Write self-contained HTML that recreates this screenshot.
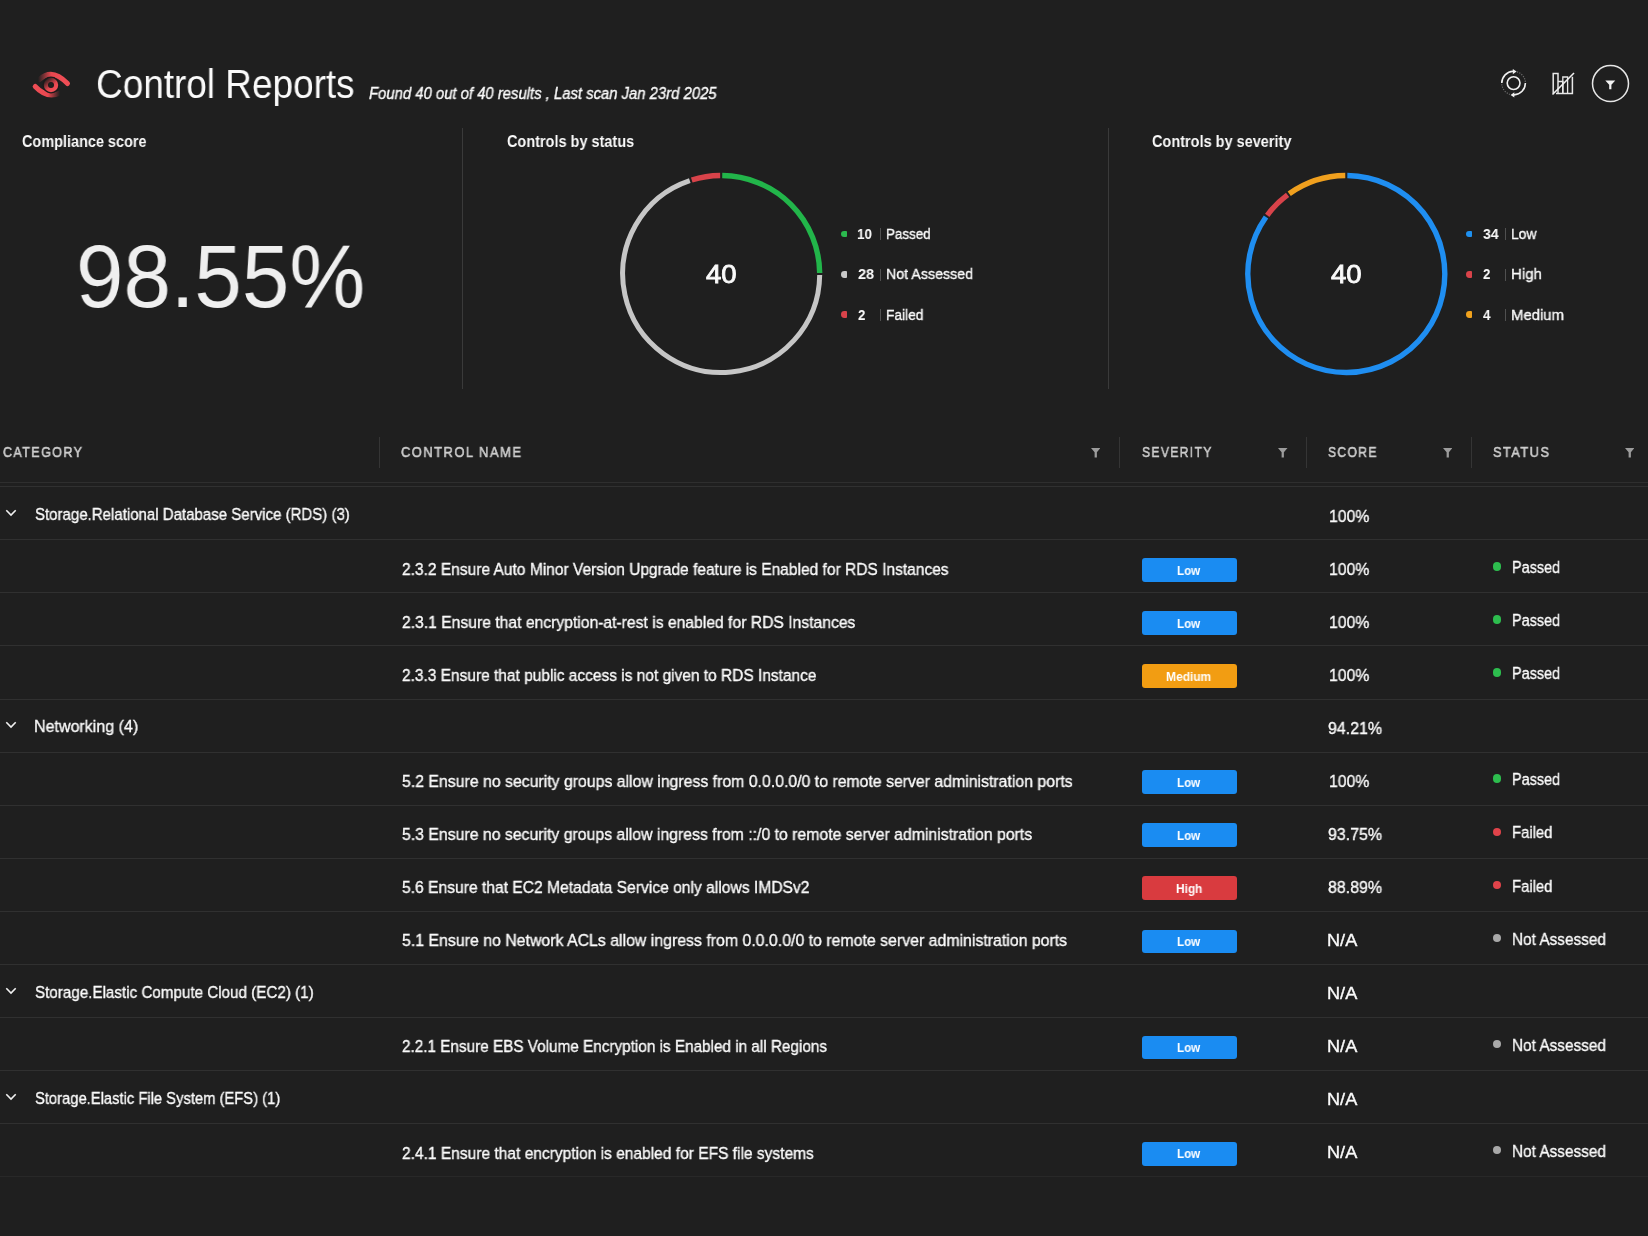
<!DOCTYPE html>
<html><head><meta charset='utf-8'><title>Control Reports</title>
<style>
html,body{margin:0;padding:0;background:#1f1f1f;}
body{width:1648px;height:1236px;position:relative;overflow:hidden;font-family:"Liberation Sans",sans-serif;}
.t{position:absolute;white-space:pre;transform-origin:0 0;will-change:transform;}
</style></head><body>
<svg style='position:absolute;left:25px;top:62px' width='56' height='44' viewBox='25 62 56 44'>
<defs>
<linearGradient id='gu' x1='38' y1='0' x2='62' y2='0' gradientUnits='userSpaceOnUse'><stop offset='0' stop-color='#e8474f' stop-opacity='0'/><stop offset='0.55' stop-color='#e8474f'/><stop offset='1' stop-color='#ee4d55'/></linearGradient>
<linearGradient id='gl' x1='36' y1='0' x2='60' y2='0' gradientUnits='userSpaceOnUse'><stop offset='0' stop-color='#ee4d55'/><stop offset='0.5' stop-color='#e8474f'/><stop offset='1' stop-color='#e8474f' stop-opacity='0'/></linearGradient>
<linearGradient id='gi' x1='46' y1='79' x2='55' y2='90' gradientUnits='userSpaceOnUse'><stop offset='0' stop-color='#e8474f' stop-opacity='0.05'/><stop offset='0.65' stop-color='#e8474f'/><stop offset='1' stop-color='#f05058'/></linearGradient>
</defs>
<path d='M39.5 79.5 Q52 67.5 67.5 83.5' fill='none' stroke='url(#gu)' stroke-width='5' stroke-linecap='round'/>
<path d='M35.2 86.5 Q47 99 60 93' fill='none' stroke='url(#gl)' stroke-width='5' stroke-linecap='round'/>
<circle cx='51' cy='85' r='5.4' fill='none' stroke='#1a1a1a' stroke-width='6.2'/>
<circle cx='51' cy='85' r='5.1' fill='none' stroke='url(#gi)' stroke-width='4.2'/>
</svg>
<svg style='position:absolute;left:1498px;top:67px' width='32' height='32' viewBox='1498 67 32 32'>
<circle cx='1513.6' cy='83.1' r='6.4' fill='none' stroke='#f0f0f0' stroke-width='1.6'/>
<path d='M1501.8 83.1 A11.8 11.8 0 0 1 1513.2 71.3' fill='none' stroke='#f0f0f0' stroke-width='1.6'/>
<path d='M1512.8 68.9 L1516.6 71.5 L1512.8 74.3 Z' fill='#f0f0f0'/>
<path d='M1525.4 83.1 A11.8 11.8 0 0 1 1514 94.9' fill='none' stroke='#f0f0f0' stroke-width='1.6'/>
<path d='M1514.3 92.2 L1510.6 94.9 L1514.3 97.6 Z' fill='#f0f0f0'/>
<path d='M1517 71.8 A11.8 11.8 0 0 1 1525.4 82' fill='none' stroke='#6c6c6c' stroke-width='1.2' stroke-dasharray='1.2 1.3'/>
<path d='M1501.8 84.2 A11.8 11.8 0 0 0 1510 94.4' fill='none' stroke='#6c6c6c' stroke-width='1.2' stroke-dasharray='1.2 1.3'/>
</svg>
<svg style='position:absolute;left:1548px;top:69px' width='30' height='29' viewBox='1548 69 30 29'>
<path d='M1553.2 93.5 V73.6 H1558 V93.5' fill='none' stroke='#e8e8e8' stroke-width='1.5'/>
<path d='M1556 93.5 H1572.4 V76.8' fill='none' stroke='#e8e8e8' stroke-width='1.5'/>
<path d='M1558 81.4 H1562.8 V93.5' fill='none' stroke='#e8e8e8' stroke-width='1.5'/>
<path d='M1562.8 93.5 V77 H1567.6 V93.5' fill='none' stroke='#e8e8e8' stroke-width='1.3'/>
<path d='M1552.5 94.5 L1574 73' fill='none' stroke='#f0f0f0' stroke-width='1.6'/>
</svg>
<svg style='position:absolute;left:1589px;top:62px' width='44' height='44' viewBox='1589 62 44 44'>
<circle cx='1610.5' cy='83.6' r='18' fill='none' stroke='#e6e6e6' stroke-width='1.5'/>
<path d='M1605.3 80.4 H1615.3 L1611.4 84.8 V89.3 H1609.2 V84.8 Z' fill='#f2f2f2'/>
</svg>
<svg style='position:absolute;left:0;top:0' width='1648' height='400'><path d='M722.23 175.51 A98.5 98.5 0 0 1 819.69 272.97' fill='none' stroke='#22b54a' stroke-width='5.4'/><path d='M819.69 275.03 A98.5 98.5 0 1 1 689.78 180.64' fill='none' stroke='#c6c6c6' stroke-width='5.0'/><path d='M691.74 180.01 A98.5 98.5 0 0 1 720.17 175.51' fill='none' stroke='#d8434a' stroke-width='5.4'/><path d='M1347.33 175.51 A98.5 98.5 0 1 1 1266.01 216.94' fill='none' stroke='#1f8ef1' stroke-width='5.4'/><path d='M1267.22 215.27 A98.5 98.5 0 0 1 1287.57 194.92' fill='none' stroke='#d8434a' stroke-width='5.4'/><path d='M1289.24 193.71 A98.5 98.5 0 0 1 1345.27 175.51' fill='none' stroke='#f0a01e' stroke-width='5.4'/></svg>
<div style='position:absolute;left:462px;top:128px;width:1px;height:261px;background:#3a3a3a'></div>
<div style='position:absolute;left:1108px;top:128px;width:1px;height:261px;background:#3a3a3a'></div>
<div style='position:absolute;left:379px;top:437px;width:1px;height:31px;background:#353535'></div>
<div style='position:absolute;left:1119px;top:437px;width:1px;height:31px;background:#353535'></div>
<div style='position:absolute;left:1306px;top:437px;width:1px;height:31px;background:#353535'></div>
<div style='position:absolute;left:1471px;top:437px;width:1px;height:31px;background:#353535'></div>
<div style='position:absolute;left:0px;top:482px;width:1648px;height:1px;background:#2e2e2e'></div>
<div style='position:absolute;left:0px;top:486px;width:1648px;height:1px;background:#303030'></div>
<div style='position:absolute;left:0px;top:539px;width:1648px;height:1px;background:#303030'></div>
<div style='position:absolute;left:0px;top:592px;width:1648px;height:1px;background:#303030'></div>
<div style='position:absolute;left:0px;top:645px;width:1648px;height:1px;background:#303030'></div>
<div style='position:absolute;left:0px;top:699px;width:1648px;height:1px;background:#303030'></div>
<div style='position:absolute;left:0px;top:752px;width:1648px;height:1px;background:#303030'></div>
<div style='position:absolute;left:0px;top:805px;width:1648px;height:1px;background:#303030'></div>
<div style='position:absolute;left:0px;top:858px;width:1648px;height:1px;background:#303030'></div>
<div style='position:absolute;left:0px;top:911px;width:1648px;height:1px;background:#303030'></div>
<div style='position:absolute;left:0px;top:964px;width:1648px;height:1px;background:#303030'></div>
<div style='position:absolute;left:0px;top:1017px;width:1648px;height:1px;background:#303030'></div>
<div style='position:absolute;left:0px;top:1070px;width:1648px;height:1px;background:#303030'></div>
<div style='position:absolute;left:0px;top:1123px;width:1648px;height:1px;background:#303030'></div>
<div style='position:absolute;left:0px;top:1176px;width:1648px;height:1px;background:#282828'></div>
<svg style='position:absolute;left:5px;top:508.00px' width='12' height='10' viewBox='0 0 12 10'><path d='M1.3 2.3 L6 7 L10.7 2.3' fill='none' stroke='#f0f0f0' stroke-width='1.6'/></svg>
<div style='position:absolute;left:1141.5px;top:558.07px;width:95.6px;height:23.8px;border-radius:3px;background:#1a8cf2'></div>
<div style='position:absolute;left:1492.75px;top:562.22px;width:8.5px;height:8.5px;border-radius:50%;background:#2dbd4e'></div>
<div style='position:absolute;left:1141.5px;top:611.13px;width:95.6px;height:23.8px;border-radius:3px;background:#1a8cf2'></div>
<div style='position:absolute;left:1492.75px;top:615.28px;width:8.5px;height:8.5px;border-radius:50%;background:#2dbd4e'></div>
<div style='position:absolute;left:1141.5px;top:664.20px;width:95.6px;height:23.8px;border-radius:3px;background:#f29d12'></div>
<div style='position:absolute;left:1492.75px;top:668.35px;width:8.5px;height:8.5px;border-radius:50%;background:#2dbd4e'></div>
<svg style='position:absolute;left:5px;top:720.27px' width='12' height='10' viewBox='0 0 12 10'><path d='M1.3 2.3 L6 7 L10.7 2.3' fill='none' stroke='#f0f0f0' stroke-width='1.6'/></svg>
<div style='position:absolute;left:1141.5px;top:770.34px;width:95.6px;height:23.8px;border-radius:3px;background:#1a8cf2'></div>
<div style='position:absolute;left:1492.75px;top:774.49px;width:8.5px;height:8.5px;border-radius:50%;background:#2dbd4e'></div>
<div style='position:absolute;left:1141.5px;top:823.40px;width:95.6px;height:23.8px;border-radius:3px;background:#1a8cf2'></div>
<div style='position:absolute;left:1492.75px;top:827.55px;width:8.5px;height:8.5px;border-radius:50%;background:#e0434a'></div>
<div style='position:absolute;left:1141.5px;top:876.47px;width:95.6px;height:23.8px;border-radius:3px;background:#d93b3f'></div>
<div style='position:absolute;left:1492.75px;top:880.62px;width:8.5px;height:8.5px;border-radius:50%;background:#e0434a'></div>
<div style='position:absolute;left:1141.5px;top:929.54px;width:95.6px;height:23.8px;border-radius:3px;background:#1a8cf2'></div>
<div style='position:absolute;left:1492.75px;top:933.69px;width:8.5px;height:8.5px;border-radius:50%;background:#a8a8a8'></div>
<svg style='position:absolute;left:5px;top:985.60px' width='12' height='10' viewBox='0 0 12 10'><path d='M1.3 2.3 L6 7 L10.7 2.3' fill='none' stroke='#f0f0f0' stroke-width='1.6'/></svg>
<div style='position:absolute;left:1141.5px;top:1035.67px;width:95.6px;height:23.8px;border-radius:3px;background:#1a8cf2'></div>
<div style='position:absolute;left:1492.75px;top:1039.82px;width:8.5px;height:8.5px;border-radius:50%;background:#a8a8a8'></div>
<svg style='position:absolute;left:5px;top:1091.74px' width='12' height='10' viewBox='0 0 12 10'><path d='M1.3 2.3 L6 7 L10.7 2.3' fill='none' stroke='#f0f0f0' stroke-width='1.6'/></svg>
<div style='position:absolute;left:1141.5px;top:1141.80px;width:95.6px;height:23.8px;border-radius:3px;background:#1a8cf2'></div>
<div style='position:absolute;left:1492.75px;top:1145.95px;width:8.5px;height:8.5px;border-radius:50%;background:#a8a8a8'></div>
<svg style='position:absolute;left:1090.75px;top:448.25px' width='9.5' height='9.5' viewBox='0 0 10 10'><path d='M0 0 H10 L6.2 4.6 V10 H3.8 V4.6 Z' fill='#9c9c9c'/></svg>
<svg style='position:absolute;left:1278.25px;top:448.25px' width='9.5' height='9.5' viewBox='0 0 10 10'><path d='M0 0 H10 L6.2 4.6 V10 H3.8 V4.6 Z' fill='#9c9c9c'/></svg>
<svg style='position:absolute;left:1442.75px;top:448.25px' width='9.5' height='9.5' viewBox='0 0 10 10'><path d='M0 0 H10 L6.2 4.6 V10 H3.8 V4.6 Z' fill='#9c9c9c'/></svg>
<svg style='position:absolute;left:1624.75px;top:448.25px' width='9.5' height='9.5' viewBox='0 0 10 10'><path d='M0 0 H10 L6.2 4.6 V10 H3.8 V4.6 Z' fill='#9c9c9c'/></svg>
<div style='position:absolute;left:880.3px;top:228.3px;width:1px;height:12.0px;background:#505050'></div>
<div style='position:absolute;left:1505.1px;top:228.3px;width:1px;height:12.0px;background:#505050'></div>
<div style='position:absolute;left:880.3px;top:268.6px;width:1px;height:12.0px;background:#505050'></div>
<div style='position:absolute;left:1505.1px;top:268.6px;width:1px;height:12.0px;background:#505050'></div>
<div style='position:absolute;left:880.3px;top:308.9px;width:1px;height:12.0px;background:#505050'></div>
<div style='position:absolute;left:1505.1px;top:308.9px;width:1px;height:12.0px;background:#505050'></div>
<div style='position:absolute;left:841.2px;top:230.50px;width:6.3px;height:6.8px;border-radius:3.4px 1px 1px 3.4px;background:#2bb94e'></div>
<div style='position:absolute;left:841.2px;top:270.80px;width:6.3px;height:6.8px;border-radius:3.4px 1px 1px 3.4px;background:#c8c8c8'></div>
<div style='position:absolute;left:841.2px;top:311.10px;width:6.3px;height:6.8px;border-radius:3.4px 1px 1px 3.4px;background:#d9434a'></div>
<div style='position:absolute;left:1466.2px;top:230.50px;width:6.3px;height:6.8px;border-radius:3.4px 1px 1px 3.4px;background:#1e90f0'></div>
<div style='position:absolute;left:1466.2px;top:270.80px;width:6.3px;height:6.8px;border-radius:3.4px 1px 1px 3.4px;background:#d9434a'></div>
<div style='position:absolute;left:1466.2px;top:311.10px;width:6.3px;height:6.8px;border-radius:3.4px 1px 1px 3.4px;background:#f0a21d'></div>
<div class='t' style='left:95.95px;top:64.30px;font-size:40.0px;line-height:40.0px;font-weight:400;font-style:normal;color:#fafafa;letter-spacing:0px;transform:scaleX(0.9231);'>Control Reports</div>
<div class='t' style='left:368.50px;top:85.90px;font-size:15.65px;line-height:15.65px;font-weight:400;font-style:italic;color:#fafafa;letter-spacing:0px;transform:scaleX(0.9495);-webkit-text-stroke:0.35px #fafafa;'>Found 40 out of 40 results , Last scan Jan 23rd 2025</div>
<div class='t' style='left:22.20px;top:133.02px;font-size:16.09px;line-height:16.09px;font-weight:700;font-style:normal;color:#fafafa;letter-spacing:0px;transform:scaleX(0.8993);'>Compliance score</div>
<div class='t' style='left:506.80px;top:133.02px;font-size:16.09px;line-height:16.09px;font-weight:700;font-style:normal;color:#fafafa;letter-spacing:0px;transform:scaleX(0.9007);'>Controls by status</div>
<div class='t' style='left:1152.30px;top:133.12px;font-size:16.09px;line-height:16.09px;font-weight:700;font-style:normal;color:#fafafa;letter-spacing:0px;transform:scaleX(0.9019);'>Controls by severity</div>
<div class='t' style='left:76.28px;top:231.71px;font-size:89.28px;line-height:89.28px;font-weight:400;font-style:normal;color:#efefef;letter-spacing:0px;transform:scaleX(0.9547);'>98.55%</div>
<div class='t' style='left:705.80px;top:261.64px;font-size:25.36px;line-height:25.36px;font-weight:400;font-style:normal;color:#fafafa;letter-spacing:0px;transform:scaleX(1.0857);-webkit-text-stroke:0.80px #fafafa;'>40</div>
<div class='t' style='left:1330.90px;top:261.64px;font-size:25.36px;line-height:25.36px;font-weight:400;font-style:normal;color:#fafafa;letter-spacing:0px;transform:scaleX(1.0857);-webkit-text-stroke:0.80px #fafafa;'>40</div>
<div class='t' style='left:857.33px;top:226.12px;font-size:15.51px;line-height:15.51px;font-weight:700;font-style:normal;color:#fafafa;letter-spacing:0px;transform:scaleX(0.8750);'>10</div>
<div class='t' style='left:886.44px;top:226.12px;font-size:15.51px;line-height:15.51px;font-weight:400;font-style:normal;color:#fafafa;letter-spacing:0px;transform:scaleX(0.8640);-webkit-text-stroke:0.35px #fafafa;'>Passed</div>
<div class='t' style='left:858.20px;top:266.42px;font-size:15.51px;line-height:15.51px;font-weight:700;font-style:normal;color:#fafafa;letter-spacing:0px;transform:scaleX(0.9412);'>28</div>
<div class='t' style='left:886.38px;top:266.42px;font-size:15.51px;line-height:15.51px;font-weight:400;font-style:normal;color:#fafafa;letter-spacing:0px;transform:scaleX(0.9183);-webkit-text-stroke:0.35px #fafafa;'>Not Assessed</div>
<div class='t' style='left:858.20px;top:306.72px;font-size:15.51px;line-height:15.51px;font-weight:700;font-style:normal;color:#fafafa;letter-spacing:0px;transform:scaleX(0.8500);'>2</div>
<div class='t' style='left:886.41px;top:306.72px;font-size:15.51px;line-height:15.51px;font-weight:400;font-style:normal;color:#fafafa;letter-spacing:0px;transform:scaleX(0.8878);-webkit-text-stroke:0.35px #fafafa;'>Failed</div>
<div class='t' style='left:1483.20px;top:226.12px;font-size:15.51px;line-height:15.51px;font-weight:700;font-style:normal;color:#fafafa;letter-spacing:0px;transform:scaleX(0.9118);'>34</div>
<div class='t' style='left:1511.40px;top:226.12px;font-size:15.51px;line-height:15.51px;font-weight:400;font-style:normal;color:#fafafa;letter-spacing:0px;transform:scaleX(0.9000);-webkit-text-stroke:0.35px #fafafa;'>Low</div>
<div class='t' style='left:1483.20px;top:266.42px;font-size:15.51px;line-height:15.51px;font-weight:700;font-style:normal;color:#fafafa;letter-spacing:0px;transform:scaleX(0.8500);'>2</div>
<div class='t' style='left:1511.33px;top:266.42px;font-size:15.51px;line-height:15.51px;font-weight:400;font-style:normal;color:#fafafa;letter-spacing:0px;transform:scaleX(0.9700);-webkit-text-stroke:0.35px #fafafa;'>High</div>
<div class='t' style='left:1483.20px;top:306.72px;font-size:15.51px;line-height:15.51px;font-weight:700;font-style:normal;color:#fafafa;letter-spacing:0px;transform:scaleX(0.8667);'>4</div>
<div class='t' style='left:1511.34px;top:306.72px;font-size:15.51px;line-height:15.51px;font-weight:400;font-style:normal;color:#fafafa;letter-spacing:0px;transform:scaleX(0.9611);-webkit-text-stroke:0.35px #fafafa;'>Medium</div>
<div class='t' style='left:3.30px;top:444.93px;font-size:14.2px;line-height:14.2px;font-weight:400;font-style:normal;color:#cdcdcd;letter-spacing:1.6px;transform:scaleX(0.8822);-webkit-text-stroke:0.55px #cdcdcd;'>CATEGORY</div>
<div class='t' style='left:401.40px;top:444.93px;font-size:14.2px;line-height:14.2px;font-weight:400;font-style:normal;color:#cdcdcd;letter-spacing:1.6px;transform:scaleX(0.9129);-webkit-text-stroke:0.55px #cdcdcd;'>CONTROL NAME</div>
<div class='t' style='left:1141.50px;top:444.93px;font-size:14.2px;line-height:14.2px;font-weight:400;font-style:normal;color:#cdcdcd;letter-spacing:1.6px;transform:scaleX(0.8512);-webkit-text-stroke:0.55px #cdcdcd;'>SEVERITY</div>
<div class='t' style='left:1328.30px;top:444.93px;font-size:14.2px;line-height:14.2px;font-weight:400;font-style:normal;color:#cdcdcd;letter-spacing:1.6px;transform:scaleX(0.8509);-webkit-text-stroke:0.55px #cdcdcd;'>SCORE</div>
<div class='t' style='left:1492.70px;top:444.93px;font-size:14.2px;line-height:14.2px;font-weight:400;font-style:normal;color:#cdcdcd;letter-spacing:1.6px;transform:scaleX(0.9048);-webkit-text-stroke:0.55px #cdcdcd;'>STATUS</div>
<div class='t' style='left:35.20px;top:507.06px;font-size:16.52px;line-height:16.52px;font-weight:400;font-style:normal;color:#fafafa;letter-spacing:0px;transform:scaleX(0.9096);-webkit-text-stroke:0.35px #fafafa;'>Storage.Relational Database Service (RDS) (3)</div>
<div class='t' style='left:1328.55px;top:508.63px;font-size:16.67px;line-height:16.67px;font-weight:400;font-style:normal;color:#fafafa;letter-spacing:0px;transform:scaleX(0.9488);-webkit-text-stroke:0.35px #fafafa;'>100%</div>
<div class='t' style='left:402.00px;top:561.82px;font-size:16.52px;line-height:16.52px;font-weight:400;font-style:normal;color:#fafafa;letter-spacing:0px;transform:scaleX(0.9406);-webkit-text-stroke:0.35px #fafafa;'>2.3.2 Ensure Auto Minor Version Upgrade feature is Enabled for RDS Instances</div>
<div class='t' style='left:1177.14px;top:564.52px;font-size:12.17px;line-height:12.17px;font-weight:700;font-style:normal;color:#ffffff;letter-spacing:0px;transform:scaleX(0.9565);'>Low</div>
<div class='t' style='left:1511.96px;top:559.13px;font-size:17.1px;line-height:17.1px;font-weight:400;font-style:normal;color:#fafafa;letter-spacing:0px;transform:scaleX(0.8436);-webkit-text-stroke:0.35px #fafafa;'>Passed</div>
<div class='t' style='left:1328.55px;top:561.70px;font-size:16.67px;line-height:16.67px;font-weight:400;font-style:normal;color:#fafafa;letter-spacing:0px;transform:scaleX(0.9488);-webkit-text-stroke:0.35px #fafafa;'>100%</div>
<div class='t' style='left:402.00px;top:614.89px;font-size:16.52px;line-height:16.52px;font-weight:400;font-style:normal;color:#fafafa;letter-spacing:0px;transform:scaleX(0.9497);-webkit-text-stroke:0.35px #fafafa;'>2.3.1 Ensure that encryption-at-rest is enabled for RDS Instances</div>
<div class='t' style='left:1177.14px;top:617.59px;font-size:12.17px;line-height:12.17px;font-weight:700;font-style:normal;color:#ffffff;letter-spacing:0px;transform:scaleX(0.9565);'>Low</div>
<div class='t' style='left:1511.96px;top:612.20px;font-size:17.1px;line-height:17.1px;font-weight:400;font-style:normal;color:#fafafa;letter-spacing:0px;transform:scaleX(0.8436);-webkit-text-stroke:0.35px #fafafa;'>Passed</div>
<div class='t' style='left:1328.55px;top:614.76px;font-size:16.67px;line-height:16.67px;font-weight:400;font-style:normal;color:#fafafa;letter-spacing:0px;transform:scaleX(0.9488);-webkit-text-stroke:0.35px #fafafa;'>100%</div>
<div class='t' style='left:402.00px;top:667.96px;font-size:16.52px;line-height:16.52px;font-weight:400;font-style:normal;color:#fafafa;letter-spacing:0px;transform:scaleX(0.9367);-webkit-text-stroke:0.35px #fafafa;'>2.3.3 Ensure that public access is not given to RDS Instance</div>
<div class='t' style='left:1166.42px;top:670.66px;font-size:12.17px;line-height:12.17px;font-weight:700;font-style:normal;color:#ffffff;letter-spacing:0px;transform:scaleX(0.9841);'>Medium</div>
<div class='t' style='left:1511.96px;top:665.27px;font-size:17.1px;line-height:17.1px;font-weight:400;font-style:normal;color:#fafafa;letter-spacing:0px;transform:scaleX(0.8436);-webkit-text-stroke:0.35px #fafafa;'>Passed</div>
<div class='t' style='left:1328.55px;top:667.83px;font-size:16.67px;line-height:16.67px;font-weight:400;font-style:normal;color:#fafafa;letter-spacing:0px;transform:scaleX(0.9488);-webkit-text-stroke:0.35px #fafafa;'>100%</div>
<div class='t' style='left:34.23px;top:719.33px;font-size:16.52px;line-height:16.52px;font-weight:400;font-style:normal;color:#fafafa;letter-spacing:0px;transform:scaleX(0.9698);-webkit-text-stroke:0.35px #fafafa;'>Networking (4)</div>
<div class='t' style='left:1328.30px;top:720.90px;font-size:16.67px;line-height:16.67px;font-weight:400;font-style:normal;color:#fafafa;letter-spacing:0px;transform:scaleX(0.9554);-webkit-text-stroke:0.35px #fafafa;'>94.21%</div>
<div class='t' style='left:402.00px;top:774.09px;font-size:16.52px;line-height:16.52px;font-weight:400;font-style:normal;color:#fafafa;letter-spacing:0px;transform:scaleX(0.9587);-webkit-text-stroke:0.35px #fafafa;'>5.2 Ensure no security groups allow ingress from 0.0.0.0/0 to remote server administration ports</div>
<div class='t' style='left:1177.14px;top:776.79px;font-size:12.17px;line-height:12.17px;font-weight:700;font-style:normal;color:#ffffff;letter-spacing:0px;transform:scaleX(0.9565);'>Low</div>
<div class='t' style='left:1511.96px;top:771.40px;font-size:17.1px;line-height:17.1px;font-weight:400;font-style:normal;color:#fafafa;letter-spacing:0px;transform:scaleX(0.8436);-webkit-text-stroke:0.35px #fafafa;'>Passed</div>
<div class='t' style='left:1328.55px;top:773.97px;font-size:16.67px;line-height:16.67px;font-weight:400;font-style:normal;color:#fafafa;letter-spacing:0px;transform:scaleX(0.9488);-webkit-text-stroke:0.35px #fafafa;'>100%</div>
<div class='t' style='left:402.00px;top:827.16px;font-size:16.52px;line-height:16.52px;font-weight:400;font-style:normal;color:#fafafa;letter-spacing:0px;transform:scaleX(0.9574);-webkit-text-stroke:0.35px #fafafa;'>5.3 Ensure no security groups allow ingress from ::/0 to remote server administration ports</div>
<div class='t' style='left:1177.14px;top:829.86px;font-size:12.17px;line-height:12.17px;font-weight:700;font-style:normal;color:#ffffff;letter-spacing:0px;transform:scaleX(0.9565);'>Low</div>
<div class='t' style='left:1511.93px;top:824.47px;font-size:17.1px;line-height:17.1px;font-weight:400;font-style:normal;color:#fafafa;letter-spacing:0px;transform:scaleX(0.8689);-webkit-text-stroke:0.35px #fafafa;'>Failed</div>
<div class='t' style='left:1328.30px;top:827.03px;font-size:16.67px;line-height:16.67px;font-weight:400;font-style:normal;color:#fafafa;letter-spacing:0px;transform:scaleX(0.9554);-webkit-text-stroke:0.35px #fafafa;'>93.75%</div>
<div class='t' style='left:402.00px;top:880.23px;font-size:16.52px;line-height:16.52px;font-weight:400;font-style:normal;color:#fafafa;letter-spacing:0px;transform:scaleX(0.9465);-webkit-text-stroke:0.35px #fafafa;'>5.6 Ensure that EC2 Metadata Service only allows IMDSv2</div>
<div class='t' style='left:1175.72px;top:882.92px;font-size:12.17px;line-height:12.17px;font-weight:700;font-style:normal;color:#ffffff;letter-spacing:0px;transform:scaleX(0.9760);'>High</div>
<div class='t' style='left:1511.93px;top:877.53px;font-size:17.1px;line-height:17.1px;font-weight:400;font-style:normal;color:#fafafa;letter-spacing:0px;transform:scaleX(0.8689);-webkit-text-stroke:0.35px #fafafa;'>Failed</div>
<div class='t' style='left:1328.30px;top:880.10px;font-size:16.67px;line-height:16.67px;font-weight:400;font-style:normal;color:#fafafa;letter-spacing:0px;transform:scaleX(0.9554);-webkit-text-stroke:0.35px #fafafa;'>88.89%</div>
<div class='t' style='left:402.00px;top:933.29px;font-size:16.52px;line-height:16.52px;font-weight:400;font-style:normal;color:#fafafa;letter-spacing:0px;transform:scaleX(0.9610);-webkit-text-stroke:0.35px #fafafa;'>5.1 Ensure no Network ACLs allow ingress from 0.0.0.0/0 to remote server administration ports</div>
<div class='t' style='left:1177.14px;top:935.99px;font-size:12.17px;line-height:12.17px;font-weight:700;font-style:normal;color:#ffffff;letter-spacing:0px;transform:scaleX(0.9565);'>Low</div>
<div class='t' style='left:1511.90px;top:930.60px;font-size:17.1px;line-height:17.1px;font-weight:400;font-style:normal;color:#fafafa;letter-spacing:0px;transform:scaleX(0.8990);-webkit-text-stroke:0.35px #fafafa;'>Not Assessed</div>
<div class='t' style='left:1327.21px;top:933.17px;font-size:16.67px;line-height:16.67px;font-weight:400;font-style:normal;color:#fafafa;letter-spacing:0px;transform:scaleX(1.0889);-webkit-text-stroke:0.35px #fafafa;'>N/A</div>
<div class='t' style='left:35.20px;top:984.66px;font-size:16.52px;line-height:16.52px;font-weight:400;font-style:normal;color:#fafafa;letter-spacing:0px;transform:scaleX(0.9199);-webkit-text-stroke:0.35px #fafafa;'>Storage.Elastic Compute Cloud (EC2) (1)</div>
<div class='t' style='left:1327.21px;top:986.23px;font-size:16.67px;line-height:16.67px;font-weight:400;font-style:normal;color:#fafafa;letter-spacing:0px;transform:scaleX(1.0889);-webkit-text-stroke:0.35px #fafafa;'>N/A</div>
<div class='t' style='left:402.00px;top:1039.43px;font-size:16.52px;line-height:16.52px;font-weight:400;font-style:normal;color:#fafafa;letter-spacing:0px;transform:scaleX(0.9259);-webkit-text-stroke:0.35px #fafafa;'>2.2.1 Ensure EBS Volume Encryption is Enabled in all Regions</div>
<div class='t' style='left:1177.14px;top:1042.13px;font-size:12.17px;line-height:12.17px;font-weight:700;font-style:normal;color:#ffffff;letter-spacing:0px;transform:scaleX(0.9565);'>Low</div>
<div class='t' style='left:1511.90px;top:1036.73px;font-size:17.1px;line-height:17.1px;font-weight:400;font-style:normal;color:#fafafa;letter-spacing:0px;transform:scaleX(0.8990);-webkit-text-stroke:0.35px #fafafa;'>Not Assessed</div>
<div class='t' style='left:1327.21px;top:1039.30px;font-size:16.67px;line-height:16.67px;font-weight:400;font-style:normal;color:#fafafa;letter-spacing:0px;transform:scaleX(1.0889);-webkit-text-stroke:0.35px #fafafa;'>N/A</div>
<div class='t' style='left:35.20px;top:1090.80px;font-size:16.52px;line-height:16.52px;font-weight:400;font-style:normal;color:#fafafa;letter-spacing:0px;transform:scaleX(0.8934);-webkit-text-stroke:0.35px #fafafa;'>Storage.Elastic File System (EFS) (1)</div>
<div class='t' style='left:1327.21px;top:1092.37px;font-size:16.67px;line-height:16.67px;font-weight:400;font-style:normal;color:#fafafa;letter-spacing:0px;transform:scaleX(1.0889);-webkit-text-stroke:0.35px #fafafa;'>N/A</div>
<div class='t' style='left:402.00px;top:1145.56px;font-size:16.52px;line-height:16.52px;font-weight:400;font-style:normal;color:#fafafa;letter-spacing:0px;transform:scaleX(0.9406);-webkit-text-stroke:0.35px #fafafa;'>2.4.1 Ensure that encryption is enabled for EFS file systems</div>
<div class='t' style='left:1177.14px;top:1148.26px;font-size:12.17px;line-height:12.17px;font-weight:700;font-style:normal;color:#ffffff;letter-spacing:0px;transform:scaleX(0.9565);'>Low</div>
<div class='t' style='left:1511.90px;top:1142.87px;font-size:17.1px;line-height:17.1px;font-weight:400;font-style:normal;color:#fafafa;letter-spacing:0px;transform:scaleX(0.8990);-webkit-text-stroke:0.35px #fafafa;'>Not Assessed</div>
<div class='t' style='left:1327.21px;top:1145.43px;font-size:16.67px;line-height:16.67px;font-weight:400;font-style:normal;color:#fafafa;letter-spacing:0px;transform:scaleX(1.0889);-webkit-text-stroke:0.35px #fafafa;'>N/A</div>
</body></html>
